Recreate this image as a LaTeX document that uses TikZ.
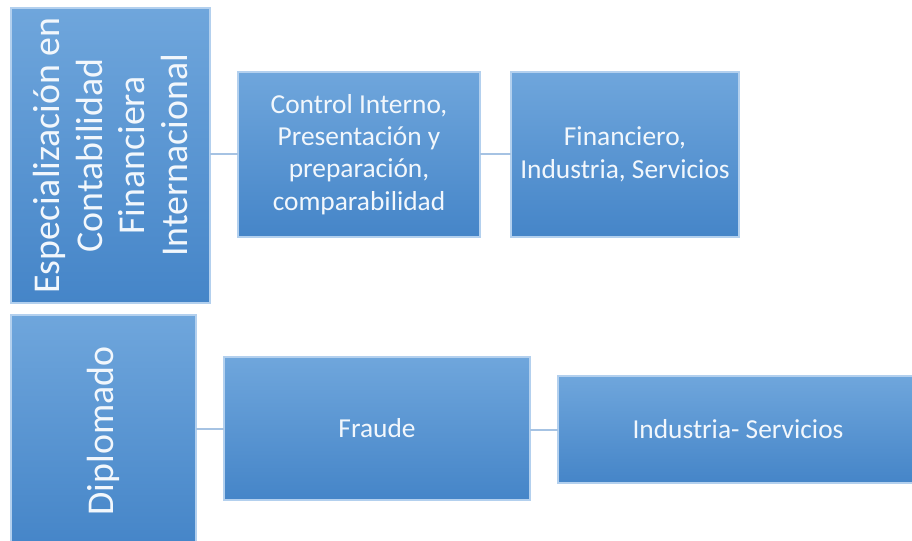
\documentclass[tikz,border=0pt]{standalone}
\usepackage{fontspec}
\setmainfont{Carlito}
\definecolor{boxtop}{HTML}{6FA6DC}
\definecolor{boxbot}{HTML}{4585C8}
\definecolor{boxline}{HTML}{B3D0EE}
\definecolor{conn}{HTML}{A6C3E3}
\definecolor{txt}{HTML}{F2F7FC}
\begin{document}
\begin{tikzpicture}[x=1bp,y=1bp,
  box/.style={draw=boxline, line width=1.2bp, top color=boxtop, bottom color=boxbot,
    anchor=north west, inner sep=0pt, outer sep=0pt, text=txt, align=center,
    font=\fontsize{27.5}{32.5}\selectfont},
  vtext/.style={rotate=90, text=txt, align=center, inner sep=0pt,
    font=\fontsize{38}{43}\selectfont},
  link/.style={draw=conn, line width=2bp}]
\useasboundingbox[fill=white] (0,0) rectangle (912,-541);
% row 1
\node[box, minimum width=199bp, minimum height=295bp] (a) at (11,-8) {};
\node[vtext] (at) at (a.center) {Especialización en\\Contabilidad\\Financiera\\Internacional};
\node[box, minimum width=242bp, minimum height=165bp] (b) at (238,-72)
  {Control Interno,\\Presentación y\\preparación,\\comparabilidad};
\node[box, minimum width=228bp, minimum height=165bp] (c) at (511,-72)
  {Financiero,\\Industria, Servicios};
% row 2
\node[box, minimum width=185bp, minimum height=232bp] (d) at (11,-315) {};
\node[vtext] (dt) at (d.center) {Diplomado};
\node[box, minimum width=306bp, minimum height=143bp] (e) at (224,-357) {Fraude};
\node[box, minimum width=360bp, minimum height=107bp] (f) at (558,-376) {Industria- Servicios};
% connectors
\draw[link] (a.east |- b.west) -- (b.west);
\draw[link] (b.east) -- (c.west);
\draw[link] (d.east |- e.west) -- (e.west);
\draw[link] (e.east |- f.west) -- (f.west);
\end{tikzpicture}
\end{document}
